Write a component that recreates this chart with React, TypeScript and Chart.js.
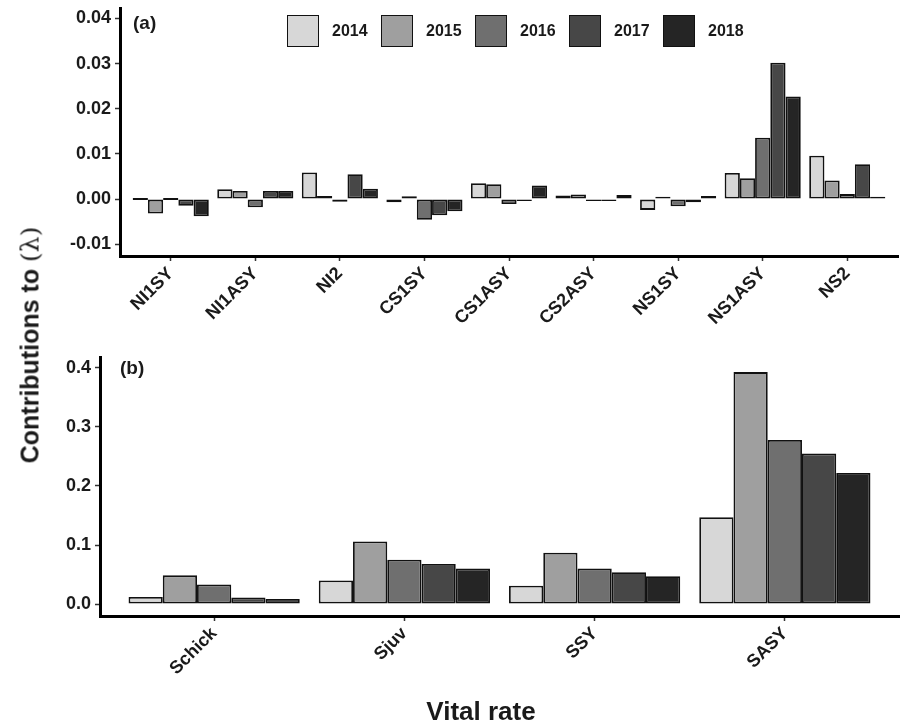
import React, { useEffect, useRef } from "react";
import { Chart, registerables } from "chart.js";

Chart.register(...registerables);

// ---------- data ----------
const years = ["2014", "2015", "2016", "2017", "2018"];
const yearColors = ["#d7d7d7", "#9f9f9f", "#6f6f6f", "#474747", "#252525"];

const topCategories = ["NI1SY", "NI1ASY", "NI2", "CS1SY", "CS1ASY", "CS2ASY", "NS1SY", "NS1ASY", "NS2"];
const top2014 = [0, 0.0022, 0.0059, -0.0007, 0.0035, 0.0008, -0.0024, 0.0058, 0.0096];
const top2015 = [-0.0032, 0.0018, 0.0007, 0.0006, 0.0033, 0.001, 0.0005, 0.0046, 0.0041];
const top2016 = [0, -0.0018, -0.0006, -0.0046, -0.0011, -0.0003, -0.0016, 0.0136, 0.0011];
const top2017 = [-0.0015, 0.0018, 0.0055, -0.0036, -0.0004, -0.0001, -0.0007, 0.0302, 0.0077];
const top2018 = [-0.0038, 0.0018, 0.0023, -0.0027, 0.003, 0.0009, 0.0007, 0.0227, 0.0005];
const topTicks = [-0.01, 0, 0.01, 0.02, 0.03, 0.04];

const bottomCategories = ["Schick", "Sjuv", "SSY", "SASY"];
const bottom2014 = [0.012, 0.04, 0.031, 0.147];
const bottom2015 = [0.0486, 0.106, 0.087, 0.393];
const bottom2016 = [0.033, 0.075, 0.06, 0.278];
const bottom2017 = [0.011, 0.068, 0.054, 0.255];
const bottom2018 = [0.0085, 0.06, 0.047, 0.222];
const bottomTicks = [0, 0.1, 0.2, 0.3, 0.4];

const topSeries = [top2014, top2015, top2016, top2017, top2018];
const bottomSeries = [bottom2014, bottom2015, bottom2016, bottom2017, bottom2018];

const FONT = '"Liberation Sans", Arial, Helvetica, sans-serif';
const INK = "#1a1a1a";

interface PanelCfg {
  cats: string[];
  series: number[][];
  yMin: number;
  yMax: number;
  ticks: number[];
  decimals: number;
  yWidth: number;
  xHeight: number;
  padTop: number;
  padRight: number;
  tickFont: number;
  catFont: number;
}

function buildChart(canvas: HTMLCanvasElement, cfg: PanelCfg) {
  const n = cfg.cats.length;
  return new Chart(canvas, {
    type: "bar",
    data: {
      datasets: cfg.series.map((vals, k) => ({
        label: years[k],
        data: vals.map((v, i) => ({ x: i, y: v })),
        backgroundColor: yearColors[k],
        borderColor: "#111111",
        borderWidth: 1.8,
        borderSkipped: false,
        minBarLength: 2,
        categoryPercentage: 0.9,
        barPercentage: 1.0,
      })),
    },
    options: {
      animation: false,
      responsive: false,
      devicePixelRatio: 1,
      layout: { padding: { top: cfg.padTop, right: cfg.padRight, left: 0, bottom: 0 } },
      plugins: { legend: { display: false }, tooltip: { enabled: false } },
      scales: {
        x: {
          type: "linear",
          min: -0.6,
          max: n - 1 + 0.6,
          offset: false,
          afterBuildTicks: (s: any) => {
            s.ticks = cfg.cats.map((_, i) => ({ value: i }));
          },
          afterFit: (s: any) => {
            s.height = cfg.xHeight;
            s.paddingLeft = 0;
            s.paddingRight = 0;
          },
          ticks: {
            autoSkip: false,
            minRotation: 45,
            maxRotation: 45,
            color: INK,
            padding: 2,
            font: { family: FONT, size: cfg.catFont, weight: "bold" },
            callback: (v: any) => cfg.cats[Math.round(Number(v))],
          },
          grid: {
            display: true,
            offset: false,
            drawOnChartArea: false,
            drawTicks: true,
            tickLength: 5,
            tickWidth: 1.5,
            tickColor: "#333333",
          },
          border: { display: true, color: "#000000", width: 3 },
        },
        y: {
          type: "linear",
          min: cfg.yMin,
          max: cfg.yMax,
          afterBuildTicks: (s: any) => {
            s.ticks = cfg.ticks.map((v) => ({ value: v }));
          },
          afterFit: (s: any) => {
            s.width = cfg.yWidth;
            s.paddingTop = 0;
            s.paddingBottom = 0;
          },
          ticks: {
            color: INK,
            padding: 4,
            font: { family: FONT, size: cfg.tickFont, weight: "bold" },
            callback: (v: any) => Number(v).toFixed(cfg.decimals),
          },
          grid: {
            display: true,
            drawOnChartArea: false,
            drawTicks: true,
            tickLength: 5,
            tickWidth: 1.5,
            tickColor: "#333333",
          },
          border: { display: true, color: "#000000", width: 3 },
        },
      },
    } as any,
  });
}

export default function App() {
  const topRef = useRef<HTMLCanvasElement | null>(null);
  const botRef = useRef<HTMLCanvasElement | null>(null);

  useEffect(() => {
    const charts: Chart[] = [];
    if (topRef.current) {
      charts.push(
        buildChart(topRef.current, {
          cats: topCategories,
          series: topSeries,
          yMin: -0.0126,
          yMax: 0.0423,
          ticks: topTicks,
          decimals: 2,
          yWidth: 120,
          xHeight: 340 - 256,
          padTop: 8,
          padRight: 3,
          tickFont: 18,
          catFont: 18,
        })
      );
    }
    if (botRef.current) {
      charts.push(
        buildChart(botRef.current, {
          cats: bottomCategories,
          series: bottomSeries,
          yMin: -0.0203,
          yMax: 0.4186,
          ticks: bottomTicks,
          decimals: 1,
          yWidth: 100,
          xHeight: 725 - 616,
          padTop: 357 - 340,
          padRight: 2,
          tickFont: 18,
          catFont: 18,
        })
      );
    }
    return () => charts.forEach((c) => c.destroy());
  }, []);

  return (
    <div
      style={{
        position: "absolute",
        left: 0,
        top: 0,
        width: 901,
        height: 725,
        background: "#ffffff",
        fontFamily: FONT,
        color: INK,
        overflow: "hidden",
      }}
    >
      <canvas ref={topRef} width={901} height={340} style={{ position: "absolute", left: 0, top: 0, display: "block" }} />
      <canvas ref={botRef} width={901} height={385} style={{ position: "absolute", left: 0, top: 340, display: "block" }} />

      <div style={{ position: "absolute", left: 133, top: 12, fontSize: 19, fontWeight: "bold" }}>(a)</div>
      <div style={{ position: "absolute", left: 120, top: 357, fontSize: 19, fontWeight: "bold" }}>(b)</div>

      <div style={{ position: "absolute", left: 287, top: 15, display: "flex", alignItems: "center" }}>
        {years.map((y, k) => (
          <div key={y} style={{ display: "flex", alignItems: "center", marginRight: 14 }}>
            <div
              style={{
                width: 30,
                height: 30,
                background: yearColors[k],
                border: "1.5px solid #111",
              }}
            />
            <span style={{ marginLeft: 13, width: 35, fontSize: 16, fontWeight: "bold" }}>{y}</span>
          </div>
        ))}
      </div>

      <div
        style={{
          position: "absolute",
          left: 30,
          top: 345,
          transform: "translate(-50%, -50%) rotate(-90deg)",
          whiteSpace: "nowrap",
          fontSize: 25,
          fontWeight: "bold",
        }}
      >
        Contributions to{" "}
        <span style={{ fontFamily: '"DejaVu Serif", serif', fontWeight: "normal" }}>(λ)</span>
      </div>

      <div
        style={{
          position: "absolute",
          left: 481,
          top: 711,
          transform: "translate(-50%, -50%)",
          whiteSpace: "nowrap",
          fontSize: 26,
          fontWeight: "bold",
        }}
      >
        Vital rate
      </div>
    </div>
  );
}
